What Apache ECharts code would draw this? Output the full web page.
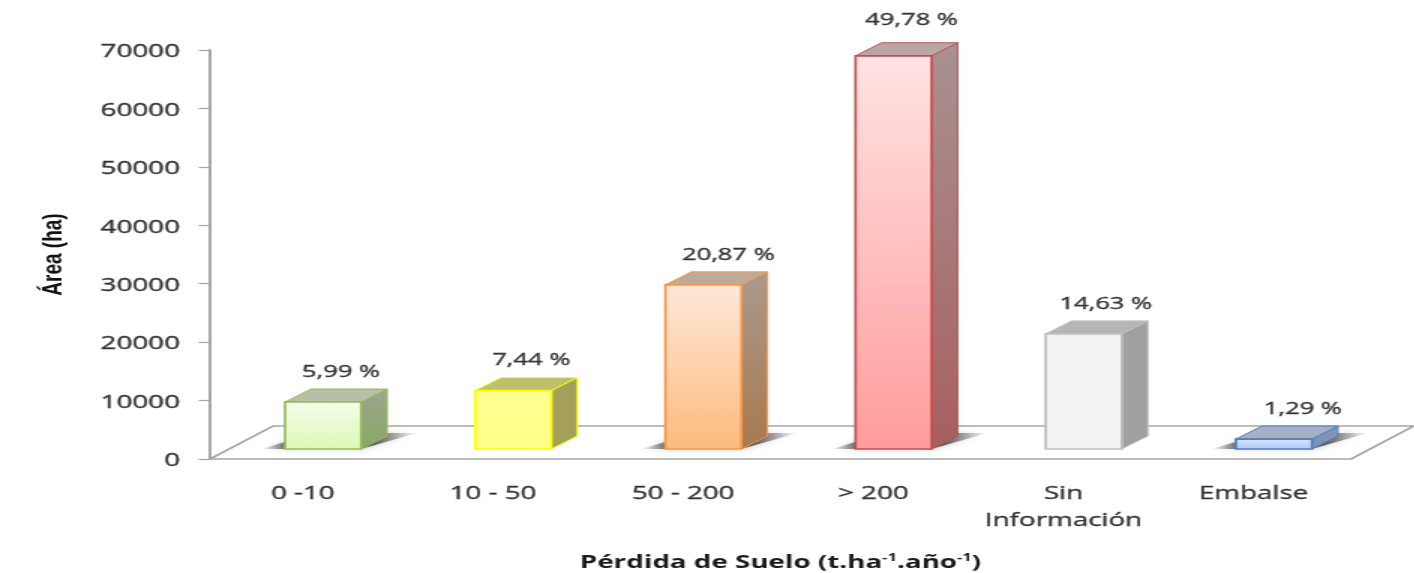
<!DOCTYPE html>
<html>
<head>
<meta charset="utf-8">
<style>
html,body{margin:0;padding:0;background:#fff;overflow:hidden;width:1414px;height:573px}
#c{width:943px;height:573px;transform:scaleX(1.5);transform-origin:0 0}
</style>
<script src="https://cdn.jsdelivr.net/npm/echarts@6/dist/echarts.min.js"></script>
</head>
<body>
<div id="c"></div>
<script>
// The reference picture is horizontally stretched: the chart is drawn narrow and stretched by STRETCH.
const STRETCH = 1.5;
const categories = ['0 -10', '10 - 50', '50 - 200', '> 200', 'Sin\nInformación', 'Embalse'];
const areas = [8050, 10000, 28100, 67300, 19700, 1700];
const percentLabels = ['5,99 %', '7,44 %', '20,87 %', '49,78 %', '14,63 %', '1,29 %'];
const yTicks = {min: 0, max: 70000, interval: 10000};

const frontTop = ['#f4fdea', '#ffff8f', '#fee8d8', '#ffe3e3', '#f2f2f2', '#d8e7fc'];
const frontBottom = ['#dcf8b6', '#ffff8a', '#fdba7c', '#ff9c9c', '#f2f2f2', '#a9c9f6'];
const borders = ['#9bbb59', '#ffff00', '#f79646', '#c0504d', '#bfbfbf', '#4f81bd'];
const sideTop = ['#9ba690', '#a3a05c', '#a99a8d', '#a89292', '#a0a0a0', '#8496b6'];
const sideBottom = ['#88a866', '#a3a05c', '#a87a4e', '#a85f5f', '#a0a0a0', '#7a92bb'];
const topFaces = ['#b6bfa7', '#bfbf6c', '#bdab9a', '#bba6a6', '#b5b5b5', '#a6b0c2'];
const hasShadow = [true, false, true, true, false, true];
const labelShiftX = [0, 0, 7, 0, 4, 11];
const labelShiftY = [0, 0, 0, -6, 0, 0];

const FONT = '"Open Sans", sans-serif';
const TEXT = '#333333';
const AXIS = '#a6a6a6';
const sx = v => v / STRETCH;

function renderFloor(params, api) {
  const cs = params.coordSys;
  const l = cs.x, r = cs.x + cs.width, b = cs.y + cs.height;
  const dx = sx(63), dy = 33;
  return {
    type: 'polyline',
    shape: {points: [[l, b], [l + dx, b - dy], [r + dx, b - dy], [r, b]]},
    style: {stroke: AXIS, lineWidth: 1.6, fill: 'none'},
    silent: true
  };
}

function vGrad(a, b) {
  return {type: 'linear', x: 0, y: 0, x2: 0, y2: 1, colorStops: [{offset: 0, color: a}, {offset: 1, color: b}]};
}

function renderBar(params, api) {
  const i = api.value(0), v = api.value(1);
  const band = api.size([1, 0])[0];
  const w = band * 0.4;
  const base = api.coord([i, 0]);
  const head = api.coord([i, v]);
  const x0 = base[0] + sx(18) - w / 2, x1 = x0 + w;
  const yb = base[1] - 10, yt = head[1] - 10;
  const dx = sx(26), dy = 13;
  const stroke = borders[i];
  const children = [];
  if (hasShadow[i]) {
    children.push({
      type: 'polygon',
      shape: {points: [[x0 - sx(24), yb], [x1, yb], [x1 + sx(56), yb - 16], [x0 + sx(30), yb - 16]]},
      style: {
        fill: {type: 'linear', x: 0, y: 0, x2: 1, y2: 0, colorStops: [
          {offset: 0, color: 'rgba(60,60,60,0)'},
          {offset: 0.18, color: 'rgba(60,60,60,0.8)'},
          {offset: 0.72, color: 'rgba(60,60,60,0.8)'},
          {offset: 1, color: 'rgba(60,60,60,0)'}
        ]},
        shadowBlur: 6, shadowColor: 'rgba(70,70,70,0.35)'
      }
    });
  }
  children.push({
    type: 'polygon',
    shape: {points: [[x1, yt], [x1 + dx, yt - dy], [x1 + dx, yb - dy], [x1, yb]]},
    style: {fill: vGrad(sideTop[i], sideBottom[i]), stroke, lineWidth: 1, lineJoin: 'round'}
  });
  children.push({
    type: 'polygon',
    shape: {points: [[x0, yt], [x0 + dx, yt - dy], [x1 + dx, yt - dy], [x1, yt]]},
    style: {fill: topFaces[i], stroke, lineWidth: 1, lineJoin: 'round'}
  });
  children.push({
    type: 'rect',
    shape: {x: x0, y: yt, width: w, height: yb - yt},
    style: {fill: vGrad(frontTop[i], frontBottom[i]), stroke, lineWidth: 1.7}
  });
  children.push({
    type: 'text',
    x: (x0 + x1) / 2 + sx(18 + labelShiftX[i]),
    y: yt - dy - 17 + labelShiftY[i],
    style: {
      text: percentLabels[i], fill: TEXT,
      fontFamily: 'Open Sans', fontSize: 17,
      stroke: TEXT, lineWidth: 0.35,
      align: 'center', verticalAlign: 'middle',
      textAlign: 'center', textVerticalAlign: 'middle'
    }
  });
  return {type: 'group', children};
}

const chart = echarts.init(document.getElementById('c'), null, {width: 943, height: 573});
chart.setOption({
  animation: false,
  backgroundColor: '#fff',
  grid: {left: sx(210), top: 50, width: sx(1351 - 210), height: 409, containLabel: false, outerBoundsMode: 'none'},
  xAxis: {
    type: 'category',
    data: categories,
    axisTick: {show: false},
    axisLine: {lineStyle: {color: AXIS, width: 1.6}},
    axisLabel: {
      color: TEXT, fontFamily: FONT, fontSize: 18.5, margin: 21.5, lineHeight: 27, interval: 0,
      textBorderColor: TEXT, textBorderWidth: 0.35, padding: [0, 3, 0, 0]
    },
    name: 'Pérdida de Suelo (t.ha{s|-1}.año{s|-1})',
    nameLocation: 'middle',
    nameGap: 93,
    nameMoveOverlap: false,
    nameTextStyle: {
      color: '#1a1a1a', fontFamily: FONT, fontSize: 18.5, fontWeight: 'bold',
      rich: {s: {fontSize: 11, fontWeight: 'bold', fontFamily: FONT, color: '#1a1a1a', verticalAlign: 'top', lineHeight: 22}}
    }
  },
  yAxis: {
    type: 'value',
    min: yTicks.min, max: yTicks.max, interval: yTicks.interval,
    splitLine: {show: false},
    axisLine: {show: true, lineStyle: {color: AXIS, width: 2}},
    axisTick: {show: true, length: 7.5, lineStyle: {color: AXIS, width: 1.2}},
    axisLabel: {
      color: TEXT, fontFamily: FONT, fontSize: 18.5, margin: 20, formatter: v => '{t|' + v + '}',
      rich: {t: {
        color: TEXT, fontFamily: FONT, fontSize: 18.5,
        textBorderColor: TEXT, textBorderWidth: 0.35, padding: [4, 0, 0, 0]
      }}
    },
    name: 'Área (ha)',
    nameLocation: 'middle',
    nameGap: 95,
    nameMoveOverlap: false,
    nameTextStyle: {color: '#111', fontFamily: 'Liberation Sans', fontSize: 19, fontWeight: 'bold'}
  },
  series: [
    {type: 'custom', z: 1, silent: true, data: [[0]], renderItem: renderFloor, clip: false},
    {
      type: 'custom', z: 2, clip: false,
      data: areas.map((v, i) => [i, v]),
      encode: {x: 0, y: 1},
      renderItem: renderBar
    }
  ]
});
</script>
</body>
</html>
